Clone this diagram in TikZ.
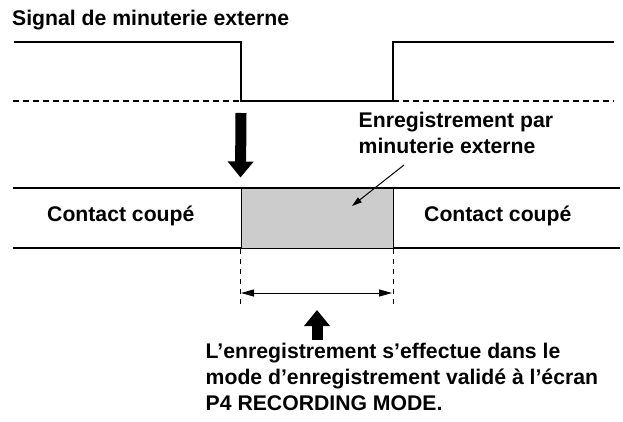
\documentclass[tikz,border=0pt]{standalone}
\usepackage{fontspec}
\setmainfont{Liberation Sans}
\usetikzlibrary{positioning,arrows.meta}
\definecolor{recgray}{RGB}{204,204,204}

\begin{document}
\begin{tikzpicture}[x=1pt, y=-1pt,
      txt/.style={font=\fontsize{21.2}{26.3}\selectfont\bfseries, inner sep=0pt, align=left},
      sig/.style={line width=2pt},
      band/.style={line width=1.4pt},
      guide/.style={line width=1.2pt, dash pattern=on 5.5pt off 4.5pt},
      recbox/.style={draw, line width=1pt, fill=recgray, inner sep=0pt,
                     minimum width=152pt, minimum height=60pt},
      bigarrow/.style={line width=11pt, -{Triangle[length=16pt,width=25pt]}},
      ptr/.style={line width=1pt, -{Triangle[length=10pt,width=6pt]}},
      span/.style={line width=1pt, {Triangle[length=13pt,width=7pt]}-{Triangle[length=13pt,width=7pt]}}]
    \useasboundingbox (0,0) rectangle (623,422);
    \node[txt, anchor=base west] (title) at (12,26) {Signal de minuterie externe};
    \draw[sig] (14,42) -- (241,42) -- (241,101) -- (393,101) -- (393,42) -- (614,42);
    \draw[guide] (13,101) -- (241,101) (393,101) -- (614,101);
    \draw[band] (13,188) -- (620,188) (13,248) -- (620,248);
    \node[recbox] (rec) at (317,218) {};
    \node[txt, anchor=base west] (offL) at (47,221) {Contact coupé};
    \node[txt, anchor=base west] (offR) at (424,221) {Contact coupé};
    \node[txt, anchor=north west] (rectxt) at (358.5,111.7) {Enregistrement par\\minuterie externe};
    \node[txt, anchor=north west] (note) at (205.5,342.7)
      {L’enregistrement s’effectue dans le\\mode d’enregistrement validé à l’écran\\P4 RECORDING MODE.};
    \coordinate (dn) at (241,113);
    \coordinate (ptrstart) at (404,165);
    \coordinate (spanL) at (241,293);
    \coordinate (spanR) at (392,293);
    \coordinate (up) at (317,340);
    \draw[bigarrow] (dn) -- ([yshift=10pt]rec.north west);
    \draw[ptr] (ptrstart) -- ([xshift=35pt,yshift=12pt]rec.center);
    \draw[guide] (rec.south west) -- ++(0,60) (rec.south east) -- ++(0,60);
    \draw[span] (spanL) -- (spanR);
    \draw[bigarrow] (up) -- ([yshift=-17pt]up |- spanL);
  \end{tikzpicture}
\end{document}
